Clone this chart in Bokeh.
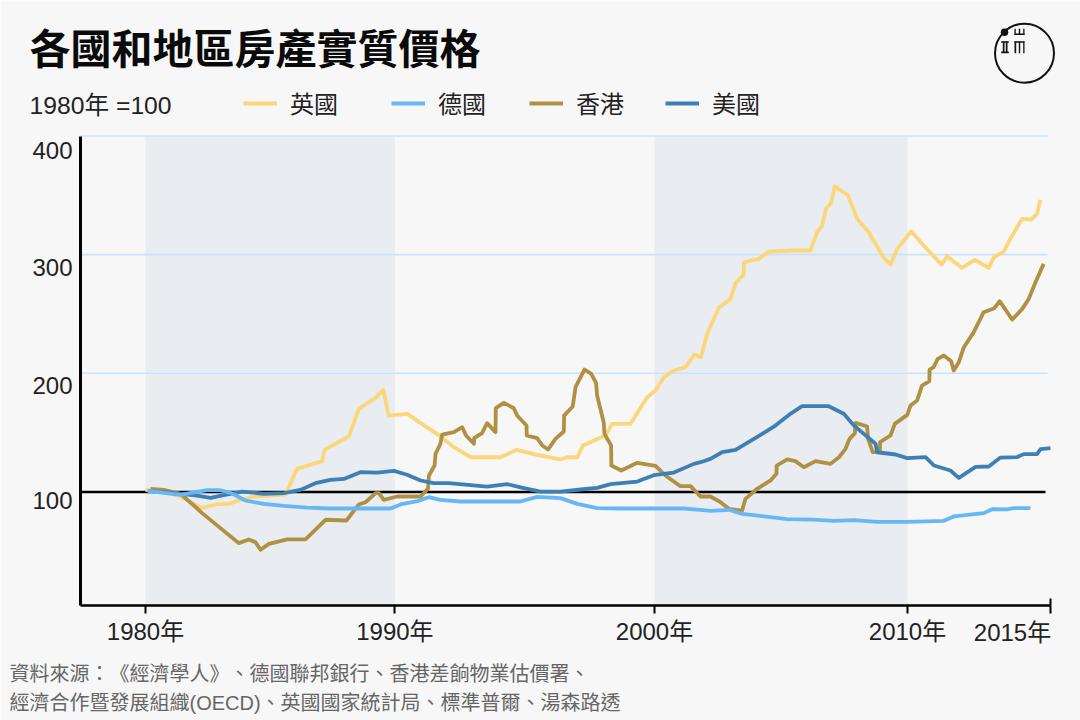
from bokeh.plotting import figure
from bokeh.models import (Range1d, FixedTicker, Label, Legend, LegendItem, BoxAnnotation, LinearAxis)
from bokeh.embed import file_html
from bokeh.resources import INLINE

BG = "#f7f7f7"
CJK = "'Noto Sans CJK TC'"
MIX = "'Liberation Sans', 'Noto Sans CJK TC'"

title_text = "各國和地區房產實質價格"
unit_text = "1980年 =100"
source_lines = ["資料來源：\u200b《經濟學人》\u200b、德國聯邦銀行、香港差餉物業估價署、",
                "經濟合作暨發展組織(OECD)、英國國家統計局、標準普爾、湯森路透"]

# the reference's time axis is drawn slightly unevenly; these are where its ticks sit
x_tick_pos = [1980, 1989.82, 2000.04, 2010, 2015.63]
x_tick_labels = ["1980年", "1990年", "2000年", "2010年", ""]
last_tick_label = "2015年"
y_grid_values = [200, 300, 400]
y_tick_labels = ["100", "200", "300", "400"]
y_label_pos = [92.8, 189.7, 289.1, 387.7]   # labels sit just under their gridlines
bands = [(1980, 1989.82), (2000.04, 2010)]

uk_x = [1980, 1980.72, 1981.38, 1981.77, 1982.23, 1982.82, 1983.28, 1983.67, 1984.27, 1985.51, 1985.97,
        1986.96, 1987.05, 1988.01, 1988.4, 1989.06, 1989.36, 1989.58, 1990.3, 1990.83, 1991.48, 1992.14,
        1992.8, 1993.98, 1994.61, 1995.42, 1996.34, 1996.6, 1997.0, 1997.22, 1998.11, 1998.37, 1999.09,
        1999.75, 2000.08, 2000.41, 2000.8, 2001.26, 2001.61, 2001.87, 2002.11, 2002.57, 2003.03, 2003.23,
        2003.55, 2003.56, 2004.14, 2004.54, 2005.52, 2006.18, 2006.44, 2006.64, 2006.79, 2006.99, 2007.14,
        2007.66, 2008.02, 2008.47, 2009.07, 2009.33, 2009.59, 2010.15, 2010.64, 2011.34, 2011.56, 2012.15,
        2012.65, 2013.2, 2013.4, 2013.79, 2014.05, 2014.51, 2014.87, 2015.1, 2015.23]
uk_y = [101.8, 100.7, 96.2, 91.4, 86.7, 89.7, 90, 92.8, 96.2, 97.9, 119.5,
        126, 135.5, 147, 170, 179.3, 186, 164.4, 165.9, 158, 149, 137.8,
        129.3, 129.3, 135.5, 131.3, 127.4, 129.3, 129.3, 139.2, 147.6, 157.4, 157.4,
        179.9, 185.5, 196.7, 202.4, 205.2, 215.8, 213.6, 233.2, 255.2, 262.7, 275.9,
        283.2, 293.6, 296.4, 302.6, 303.5, 303.5, 318.9, 324.5, 338.6, 343.6, 357.6,
        349.8, 330.1, 318.9, 297.3, 291.6, 304.8, 319.7, 307.6, 291.6, 298.4, 288.8,
        295.5, 288.8, 297.8, 302.6, 313.3, 330.1, 329.5, 334.3, 346.1]

de_x = [1980.09, 1980.72, 1981.38, 1981.9, 1982.43, 1982.95, 1983.35, 1983.94, 1984.66, 1985.45, 1986.36,
        1987.28, 1988.6, 1989.65, 1990.04, 1990.7, 1991.15, 1991.61, 1992.4, 1993.45, 1994.76, 1995.42,
        1996.34, 1997.0, 1997.78, 1998.7, 2000.0, 2001.19, 2001.85, 2002.24, 2002.97, 2003.49, 2004.21,
        2005.26, 2006.31, 2007.1, 2007.89, 2008.8, 2009.99, 2011.43, 2011.82, 2013.0, 2013.33, 2013.92,
        2014.19, 2014.84]
de_y = [101, 99.3, 97.6, 99.6, 101.5, 101.5, 99.3, 92.8, 90, 88.3, 86.9,
        86.1, 86.1, 86.1, 89.5, 92.3, 95.6, 93.4, 92, 92, 92, 95.9,
        94.8, 90, 86.4, 86.1, 86.1, 86.1, 85, 84.1, 85, 81.6, 79.9,
        77.1, 76.8, 75.7, 76.3, 74.9, 74.9, 75.7, 79.4, 82.2, 85.5, 85.3,
        86.4, 86.4]

hk_x = [1980.2, 1980.72, 1981.38, 1981.9, 1982.23, 1983.67, 1984.07, 1984.33, 1984.53, 1984.86, 1985.58,
        1986.3, 1987.09, 1987.91, 1988.4, 1988.66, 1989.06, 1989.19, 1989.38, 1989.91, 1990.83, 1991.12,
        1991.16, 1991.38, 1991.42, 1991.61, 1991.68, 1992.14, 1992.47, 1992.62, 1992.93, 1992.94, 1993.25,
        1993.45, 1993.78, 1993.79, 1994.11, 1994.5, 1994.63, 1995.0, 1995.01, 1995.42, 1995.62, 1995.85,
        1996.14, 1996.47, 1996.48, 1996.82, 1996.93, 1997.28, 1997.55, 1997.74, 1997.78, 1998.04, 1998.07,
        1998.33, 1998.34, 1998.73, 1999.36, 2000.08, 2000.47, 2001.06, 2001.46, 2001.85, 2002.24, 2002.64,
        2002.97, 2003.49, 2003.62, 2004.08, 2004.61, 2004.84, 2004.85, 2005.26, 2005.59, 2005.92, 2006.38,
        2006.97, 2007.3, 2007.56, 2007.72, 2007.93, 2007.95, 2008.41, 2008.45, 2008.63, 2008.91, 2008.92,
        2009.33, 2009.5, 2009.99, 2010.12, 2010.38, 2010.57, 2010.86, 2010.87, 2011.03, 2011.19, 2011.43,
        2011.72, 2011.82, 2012.02, 2012.22, 2012.61, 2013.0, 2013.42, 2013.63, 2014.12, 2014.52, 2014.77,
        2015.04, 2015.36]
hk_y = [102.7, 101.8, 98.5, 88.6, 82.2, 56.9, 60, 57.7, 51.3, 56.3, 60,
        60, 76.6, 76, 89.5, 91.4, 99, 99, 93.4, 96.2, 96.2, 102.7,
        113.9, 122.3, 132.2, 140.6, 148.4, 150.4, 154.6, 147.6, 140.6, 145.4, 149.6,
        158, 150.4, 170.6, 175.1, 170.6, 164.4, 156, 147.6, 145.4, 139.2, 135.8,
        144.8, 151, 164.4, 172, 188.3, 203.2, 199.5, 191.7, 181.3, 158.8, 149,
        139.2, 122.3, 118.1, 124.6, 122, 113.9, 104.9, 104.9, 96.2, 96.2, 91.4,
        85.8, 84.4, 94.2, 102.7, 109.7, 115.3, 122.3, 127.4, 126, 120.9, 126,
        123.7, 129.3, 136.4, 144.8, 149.6, 158.3, 155.2, 144.8, 133.6, 133.6, 142,
        147.6, 157.4, 165, 172.9, 177.1, 189.7, 193.4, 203.2, 205.2, 212.2, 215,
        210.2, 202.4, 209.4, 222, 234.7, 251.5, 254.9, 260.8, 245.3, 254.3, 262.7,
        276.8, 292.2]

us_x = [1980.09, 1980.72, 1981.38, 1982.03, 1982.56, 1983.08, 1983.81, 1984.66, 1985.45, 1986.1, 1986.69,
        1987.28, 1987.81, 1988.46, 1989.12, 1989.78, 1990.3, 1990.83, 1991.35, 1991.94, 1992.8, 1993.45,
        1994.24, 1994.9, 1995.55, 1996.34, 1997.13, 1997.78, 1998.31, 1999.36, 2000.01, 2000.8, 2001.59,
        2001.85, 2002.24, 2002.7, 2003.23, 2004.02, 2004.8, 2005.39, 2005.85, 2006.9, 2007.49, 2007.89,
        2008.28, 2008.74, 2008.81, 2009.53, 2009.99, 2010.71, 2011.04, 2011.69, 2012.02, 2012.68, 2013.2,
        2013.66, 2014.32, 2014.58, 2015.1, 2015.24, 2015.63]
us_y = [101, 99.9, 98.5, 97, 95.1, 97.3, 100.4, 98.5, 99, 101.8, 107.4,
        110.2, 111, 116.7, 116.4, 117.8, 114.5, 109.7, 107.4, 107.4, 105.8, 104.6,
        106.6, 103.2, 100.4, 100.4, 102.1, 103.5, 106.6, 108.8, 114.2, 116.4, 123.7,
        125.1, 127.9, 133.5, 135.5, 145.6, 156, 165.9, 172.3, 172.3, 165.9, 156,
        149, 140.6, 133.5, 131.6, 128.5, 129.4, 122.3, 118.1, 111.9, 121.2, 121.5,
        129, 129.4, 131.9, 131.9, 136.1, 136.9]

UK_COL, DE_COL, HK_COL, US_COL = "#fbd67b", "#66b7f4", "#b09143", "#3f80b4"
LW = 3.8

# pixel -> data helpers for things placed around the plot (page coordinates)
def yr(px):
    return 1980 + (px - 145) / 25.4

def val(py):
    return 100 + (491.5 - py) / 1.1868

# the frame fills the whole canvas so the title, legend and logo can live in it
p = figure(width=1080, height=720, output_backend="svg", toolbar_location=None,
           x_range=Range1d(yr(0), yr(1080)), y_range=Range1d(val(720), val(0)),
           x_axis_type=None, y_axis_type=None,
           min_border=0, min_border_left=0, min_border_right=0, min_border_top=0, min_border_bottom=0,
           background_fill_color=BG, border_fill_color=BG, outline_line_color=None)

# shaded decades
for a, b in bands:
    p.quad(left=a, right=b, bottom=val(605), top=val(136), color="#e9ecf1", line_width=0, level="image")

# gridlines stop just short of the axis end
p.segment([yr(80)] * len(y_grid_values), y_grid_values, [yr(1047)] * len(y_grid_values), y_grid_values,
          color="#c9e3f8", line_width=1.6, level="underlay")

p.line([yr(80), yr(1045)], [100, 100], color="black", line_width=2.6)
p.segment([x_tick_pos[-1]], [val(605)], [x_tick_pos[-1]], [val(598)], color="black", line_width=2)

uk = p.line(uk_x, uk_y, color=UK_COL, line_width=LW, line_join="round")
hk = p.line(hk_x, hk_y, color=HK_COL, line_width=LW, line_join="round")
us = p.line(us_x, us_y, color=US_COL, line_width=LW, line_join="round")
de = p.line(de_x, de_y, color=DE_COL, line_width=LW, line_join="round")

# axes
xa = LinearAxis(fixed_location=val(605))
xa.ticker = FixedTicker(ticks=x_tick_pos)
xa.major_label_overrides = {k: v for k, v in zip(x_tick_pos, x_tick_labels)}
xa.bounds = (yr(80), x_tick_pos[-1])
xa.axis_line_color = "black"
xa.axis_line_width = 2.6
xa.major_tick_line_color = "black"
xa.major_tick_line_width = 2
xa.major_tick_in = 0
xa.major_tick_out = 8
xa.minor_tick_line_color = None
xa.major_label_standoff = 4
xa.major_label_text_font = MIX
xa.major_label_text_font_size = "24px"
xa.major_label_text_color = "#222222"
p.add_layout(xa, "below")

ya = LinearAxis(fixed_location=yr(80))
ya.ticker = FixedTicker(ticks=y_label_pos)
ya.major_label_overrides = {k: v for k, v in zip(y_label_pos, y_tick_labels)}
ya.bounds = (val(605), val(136))
ya.axis_line_color = "black"
ya.axis_line_width = 3
ya.major_tick_line_color = None
ya.minor_tick_line_color = None
ya.major_tick_in = 0
ya.major_tick_out = 0
ya.major_label_standoff = 8
ya.major_label_text_font = MIX
ya.major_label_text_font_size = "24px"
ya.major_label_text_color = "#222222"
p.add_layout(ya, "left")

def text(px, py, s, size, color="#222222", font=MIX, style="normal", align="left"):
    p.add_layout(Label(x=yr(px), y=val(py), text=s, text_font=font, text_font_size=f"{size}px",
                       text_color=color, text_font_style=style, text_align=align,
                       text_baseline="middle"))

text(1012, 632, last_tick_label, 24, align="center")
text(29, 45, title_text, 41, color="#0a0a0a", font=CJK, style="bold")
text(29, 105, unit_text, 24.7)
text(9, 673, source_lines[0], 20, color="#666666")
text(9, 702, source_lines[1], 20, color="#666666")

# legend: one per series so each sits where the reference has it
for name, r, gx in [("英國", uk, 243), ("德國", de, 391), ("香港", hk, 529), ("美國", us, 665)]:
    lg = Legend(items=[LegendItem(label=name, renderers=[r])], location=(gx, 720 - 105 - 15),
                background_fill_alpha=0, border_line_color=None, padding=0, margin=0, spacing=0,
                glyph_width=34, glyph_height=16, label_height=32, label_standoff=13,
                label_text_font=CJK, label_text_font_size="24px", label_text_color="#222222")
    p.add_layout(lg, "center")

# logo: ring, dot and the strokes of its mark
LOGO = "#111111"
p.scatter([yr(1024)], [val(52.7)], size=59, marker="circle", fill_alpha=0, line_color=LOGO, line_width=2)
p.scatter([yr(1004)], [val(31.7)], size=7.5, marker="circle", color=LOGO, line_width=0)

def stroke(l, r, t, b):
    p.add_layout(BoxAnnotation(left=yr(l), right=yr(r), top=val(t), bottom=val(b),
                               fill_color=LOGO, fill_alpha=1, line_alpha=0))

for s in [(1000.7, 1008.3, 40.7, 42.3), (1000.7, 1008.3, 51, 52.7), (1002.3, 1004, 41, 52), (1005.3, 1007, 41, 52),  # 工
          (1014, 1015.3, 28.3, 34.4), (1018.3, 1019.7, 28.3, 34.4), (1022.7, 1024, 28.3, 34.4), (1014, 1024, 33, 34.4),  # 山
          (1014, 1024, 40.7, 42.3), (1014, 1015.7, 41, 52.7), (1018.3, 1019.7, 41, 52.7), (1022.7, 1024, 41, 52.7)]:  # 而
    stroke(*s)

open("out.html", "w").write(file_html(p, INLINE))
